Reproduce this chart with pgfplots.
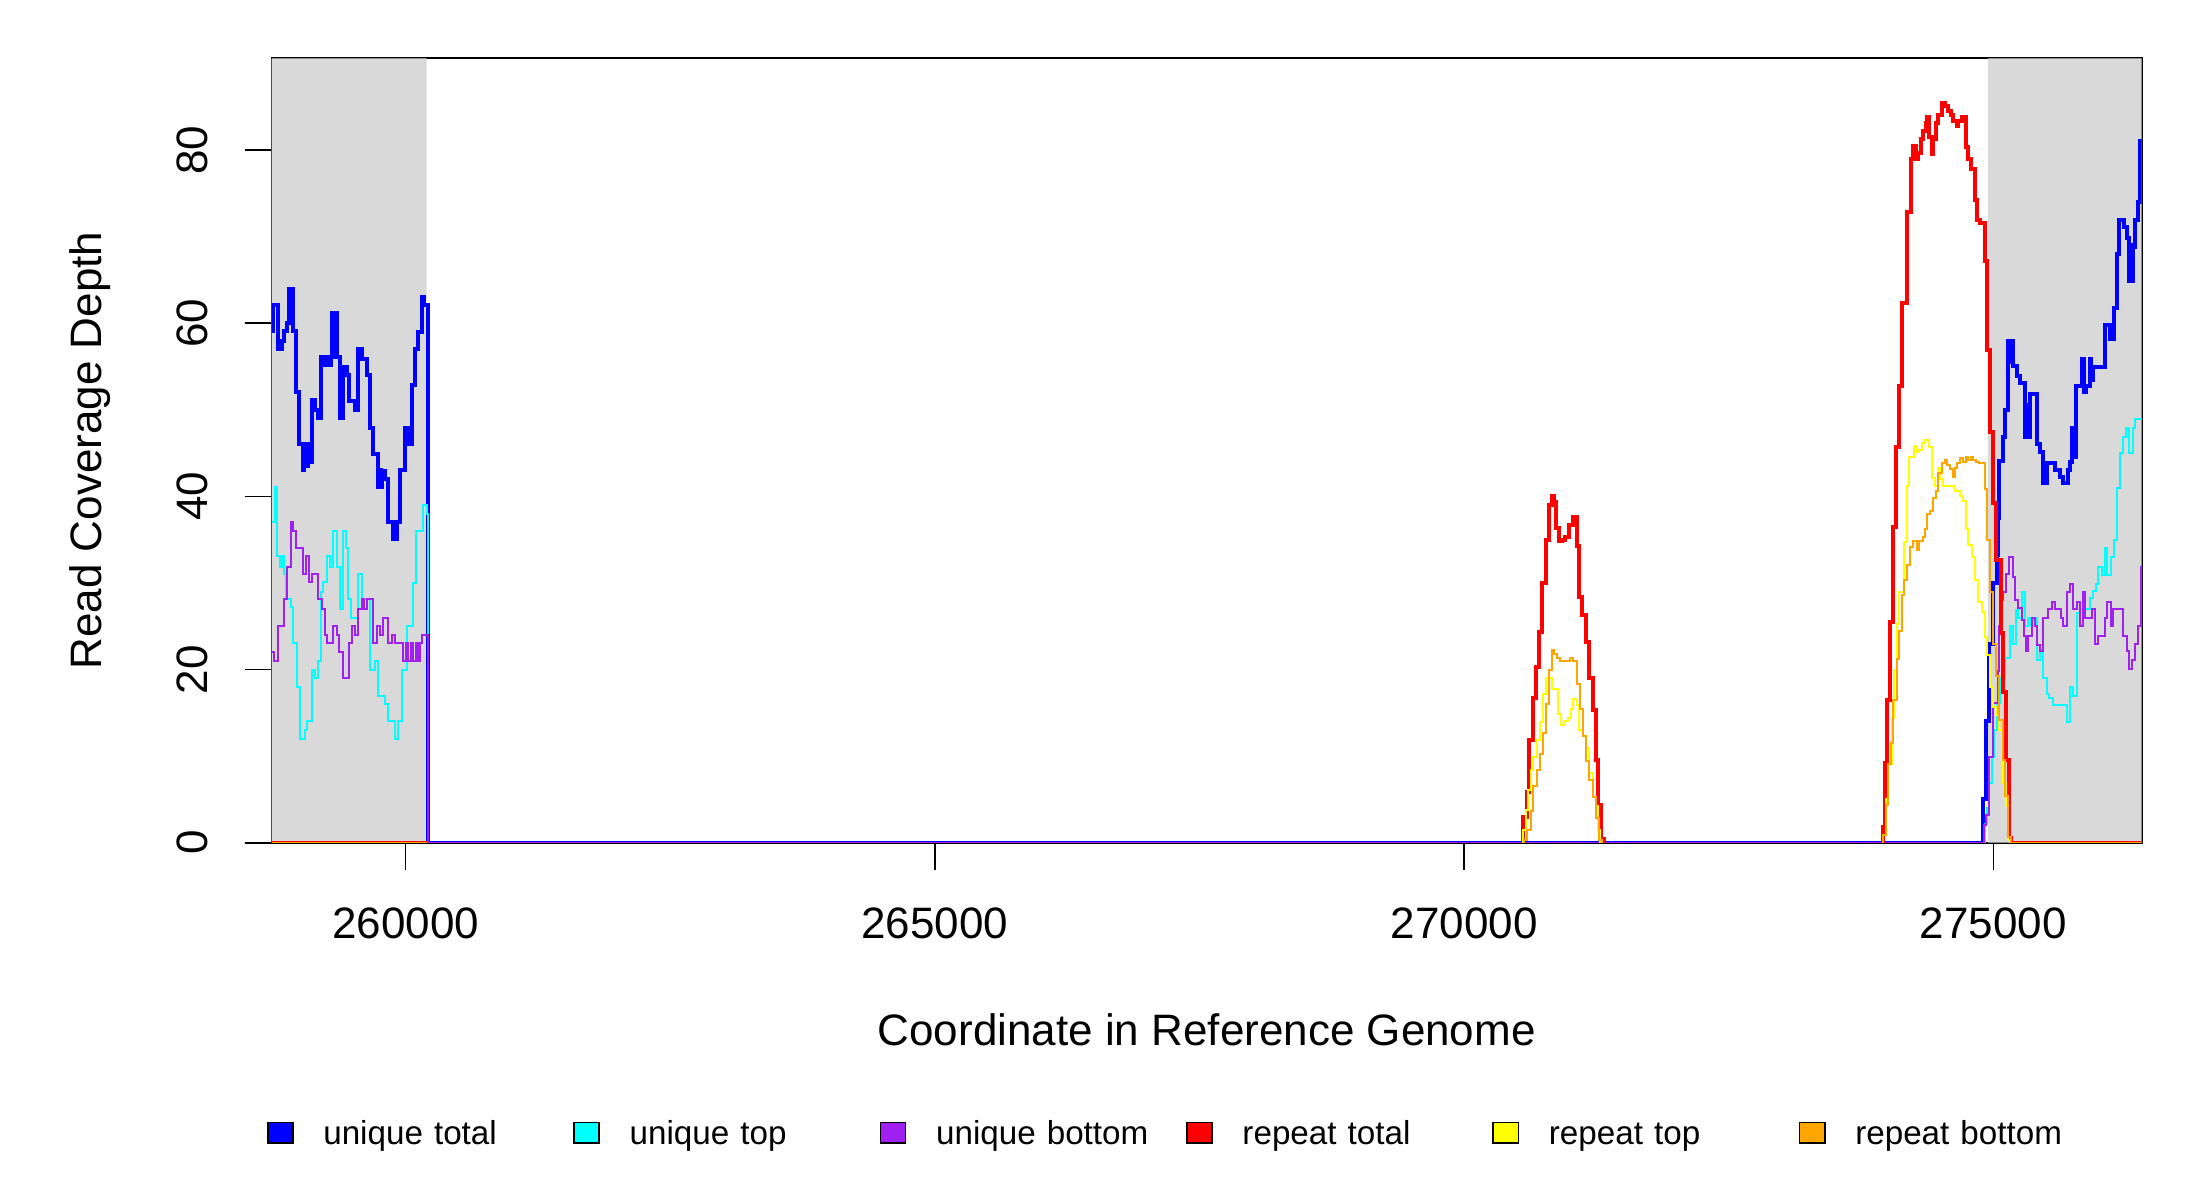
\documentclass[border=0pt]{standalone}
\usepackage{fontspec}
\setmainfont{Liberation Sans}
\usepackage{pgfplots}
\pgfplotsset{compat=1.18}
\definecolor{ublue}{RGB}{0,0,255}
\definecolor{ucyan}{RGB}{0,255,255}
\definecolor{upurple}{RGB}{160,32,240}
\definecolor{rred}{RGB}{255,0,0}
\definecolor{ryellow}{RGB}{255,255,0}
\definecolor{rorange}{RGB}{255,165,0}
\definecolor{shade}{RGB}{217,217,217}
\begin{document}
\begin{tikzpicture}
\path[use as bounding box] (-67.925pt,-89.325pt) rectangle (482.075pt,210.675pt);
\begin{axis}[
  at={(0pt,0pt)}, anchor=south west,
  scale only axis, width=467.5pt, height=196.1pt,
  xmin=258734, xmax=276402, ymin=0, ymax=90.6,
  axis line style={line width=0.4pt},
  every tick/.style={line width=0.4pt, black},
  tick align=outside, major tick length=6.75pt,
  xtick pos=left, ytick pos=left,
  scaled x ticks=false, scaled y ticks=false,
  xtick={260000,265000,270000,275000}, xticklabels={260000,265000,270000,275000},
  ytick={0,20,40,60,80}, yticklabels={0,20,40,60,80},
  ticklabel style={font=\fontsize{11}{13}\selectfont},
  xticklabel style={anchor=base, inner sep=0pt, yshift=-17.15pt},
  yticklabel style={inner sep=0pt, xshift=-9.25pt, rotate=90, anchor=base},
  xlabel={Coordinate in Reference Genome},
  ylabel={Read Coverage Depth},
  label style={font=\fontsize{11}{13}\selectfont},
  xlabel style={at={(axis description cs:0.5,0)}, anchor=base, yshift=-50.75pt, inner sep=0pt},
  ylabel style={at={(axis description cs:-0.090909,0.5)}, anchor=base, inner sep=0pt},
  legend columns=6,
  legend cell align=left,
  legend style={at={(axis description cs:-0.00257,-0.3735)}, anchor=west, draw=none, fill=none,
    inner sep=0pt, outer sep=0pt, column sep=0pt, row sep=0pt,
    font=\fontsize{8.3}{10}\selectfont,
    nodes={inner sep=0pt, text height=6pt, text depth=1.7pt, text width=62.5pt, align=left},
    /tikz/every odd column/.style={column sep=7.4pt},
    /tikz/every even column/.style={column sep=0pt}},
]
% shaded regions
\addplot[draw=none, fill=shade, forget plot] coordinates {(258734,0) (258734,90.6) (260198,90.6) (260198,0)} \closedcycle;
\addplot[draw=none, fill=shade, forget plot] coordinates {(274948,0) (274948,90.6) (276402,90.6) (276402,0)} \closedcycle;

% unique total
\addplot[const plot, ublue, line width=1pt,
  legend image code/.code={\draw[black, line width=0.4pt, fill=ublue] (0pt,-1.9pt) rectangle (6.3pt,3.3pt);}]
coordinates {(258734,59.1) (258750,62.1) (258797,57.0) (258828,58.0) (258850,59.1) (258875,60.0) (258900,64.0) (258913,60.0) (258925,64.0) (258938,59.1) (258964,52.1) (258995,46.1) (259027,43.1) (259042,46.1) (259058,43.5) (259080,46.1) (259096,44.0) (259112,51.1) (259143,50.0) (259175,49.1) (259200,56.1) (259230,55.2) (259250,56.1) (259269,55.2) (259290,56.1) (259305,61.2) (259320,56.1) (259335,61.2) (259348,56.1) (259379,49.1) (259395,54.5) (259405,49.1) (259411,55.0) (259442,54.0) (259467,51.0) (259521,50.0) (259552,57.0) (259565,55.9) (259575,57.0) (259584,55.9) (259631,54.0) (259663,47.9) (259694,44.9) (259741,41.1) (259755,43.0) (259765,41.1) (259773,42.9) (259804,42.0) (259836,37.0) (259883,35.1) (259895,37.0) (259905,35.1) (259915,37.0) (259946,43.0) (259993,47.9) (260005,46.1) (260015,47.9) (260025,46.1) (260056,52.9) (260088,57.0) (260119,59.0) (260151,63.0) (260176,62.1) (260212,0) (274905,5.1) (274931,14.0) (274962,23.0) (275000,30.0) (275031,33.2) (275045,37.5) (275057,44.1) (275089,46.9) (275111,50.0) (275142,58.0) (275158,55.5) (275170,58.0) (275189,55.1) (275227,53.9) (275252,53.1) (275300,46.9) (275315,50.5) (275330,46.9) (275343,51.8) (275410,46.1) (275441,45.1) (275467,41.5) (275511,43.8) (275583,43.0) (275630,42.2) (275662,41.5) (275709,43.0) (275725,44.0) (275740,47.9) (275750,44.5) (275781,52.8) (275835,55.9) (275857,52.0) (275876,52.8) (275914,55.9) (275925,53.5) (275945,54.9) (276055,59.8) (276103,58.2) (276140,61.8) (276165,68.0) (276191,71.9) (276235,71.1) (276266,69.8) (276279,64.9) (276295,69.0) (276305,64.9) (276317,68.8) (276339,71.9) (276370,74.0) (276388,81.0) (276402,81.0)};
\addlegendentry{unique total}

% unique top
\addplot[const plot, ucyan, line width=0.5pt,
  legend image code/.code={\draw[black, line width=0.4pt, fill=ucyan] (0pt,-1.9pt) rectangle (6.3pt,3.3pt);}]
coordinates {(258734,37.0) (258765,41.1) (258787,33.1) (258810,31.9) (258828,33.1) (258850,31.0) (258869,28.1) (258913,27.2) (258938,23.1) (258970,18.0) (259001,12.0) (259049,13.0) (259064,14.0) (259112,20.0) (259143,19.0) (259175,21.0) (259197,29.0) (259222,30.1) (259253,33.1) (259285,31.9) (259316,36.0) (259348,31.9) (259379,27.0) (259404,36.0) (259436,34.0) (259458,28.1) (259480,26.0) (259552,31.0) (259584,28.1) (259663,20.0) (259710,21.0) (259741,17.0) (259804,16.0) (259836,14.0) (259899,12.0) (259930,14.0) (259962,20.0) (260009,25.0) (260066,30.0) (260097,36.0) (260160,39.0) (260198,38.0) (260212,0) (274921,2.2) (274945,4.0) (274962,6.9) (274985,9.9) (275010,13.0) (275035,16.1) (275063,19.0) (275110,21.3) (275157,25.0) (275189,23.0) (275214,26.9) (275236,26.0) (275268,29.0) (275299,25.0) (275331,26.0) (275353,25.0) (275394,26.0) (275416,21.1) (275441,22.8) (275472,19.0) (275504,17.2) (275530,16.7) (275567,15.9) (275700,13.9) (275725,18.0) (275756,17.0) (275787,26.5) (275819,27.0) (275914,28.3) (275939,29.1) (275970,29.9) (275992,31.9) (276024,30.9) (276055,34.0) (276077,30.9) (276109,33.0) (276140,35.0) (276165,41.0) (276197,45.0) (276222,46.9) (276254,47.9) (276285,45.0) (276317,47.9) (276339,48.9) (276402,48.9)};
\addlegendentry{unique top}

% unique bottom
\addplot[const plot, upurple, line width=0.5pt,
  legend image code/.code={\draw[black, line width=0.4pt, fill=upurple] (0pt,-1.9pt) rectangle (6.3pt,3.3pt);}]
coordinates {(258734,22.0) (258759,21.0) (258797,25.0) (258850,28.1) (258882,31.9) (258913,37.0) (258938,36.0) (258964,34.0) (259027,31.0) (259055,33.1) (259086,30.1) (259112,31.0) (259175,28.1) (259206,27.0) (259238,24.0) (259253,23.1) (259316,25.0) (259348,24.0) (259373,22.0) (259404,19.0) (259467,23.1) (259489,25.0) (259521,24.0) (259552,27.0) (259584,28.1) (259606,27.0) (259631,28.1) (259694,23.1) (259726,25.0) (259757,24.0) (259782,26.0) (259836,23.1) (259867,24.0) (259899,23.1) (259978,21.0) (260000,23.1) (260025,21.0) (260047,23.1) (260072,21.0) (260097,23.1) (260119,21.0) (260135,23.1) (260151,24.0) (260212,0) (274912,2.0) (274931,3.2) (274962,9.9) (275000,16.1) (275040,19.8) (275057,25.0) (275070,28.0) (275094,29.0) (275120,31.0) (275151,33.0) (275183,30.7) (275205,28.0) (275236,27.1) (275268,25.7) (275290,23.9) (275309,22.1) (275331,23.9) (275362,25.9) (275394,25.0) (275416,22.8) (275441,22.1) (275472,25.9) (275489,26.0) (275520,27.0) (275552,27.8) (275583,27.0) (275637,26.0) (275662,25.0) (275700,28.9) (275725,29.9) (275756,27.0) (275794,27.8) (275819,25.0) (275844,28.9) (275866,26.0) (275929,27.0) (275961,22.9) (275992,23.9) (276055,26.0) (276077,27.8) (276109,25.0) (276134,27.0) (276229,23.9) (276260,22.1) (276285,20.1) (276307,21.1) (276339,22.9) (276364,25.0) (276392,31.9) (276402,31.9)};
\addlegendentry{unique bottom}

% repeat total
\addplot[const plot, rred, line width=1pt,
  legend image code/.code={\draw[black, line width=0.4pt, fill=rred] (0pt,-1.9pt) rectangle (6.3pt,3.3pt);}]
coordinates {(258734,0) (260205,0)};
\addlegendentry{repeat total}
\addplot[const plot, rred, line width=1pt, forget plot]
coordinates {(270559,0) (270559,3.0) (270591,5.9) (270616,11.9) (270648,16.7) (270676,20.3) (270711,24.3) (270739,30.0) (270770,35.0) (270799,39.0) (270827,40.0) (270849,39.4) (270868,36.3) (270896,34.8) (270922,35.0) (270953,35.3) (270994,36.7) (271025,37.6) (271063,34.3) (271088,28.4) (271117,26.3) (271148,23.2) (271183,19.0) (271214,15.3) (271246,9.6) (271268,4.4) (271293,0.4) (271321,0)};
\addplot[const plot, rred, line width=1pt, forget plot]
coordinates {(273954,0) (273954,1.8) (273976,9.2) (273998,16.5) (274023,25.5) (274049,36.5) (274077,45.7) (274108,52.7) (274140,62.3) (274181,72.9) (274219,79.0) (274244,80.5) (274269,79.0) (274291,79.7) (274313,81.3) (274338,82.2) (274360,83.1) (274376,83.8) (274395,81.5) (274417,79.5) (274433,81.3) (274455,83.1) (274480,84.1) (274512,85.4) (274543,85.1) (274575,84.5) (274597,84.1) (274622,83.4) (274653,82.8) (274669,83.4) (274701,83.8) (274741,80.4) (274763,79.0) (274786,77.8) (274826,74.2) (274849,71.9) (274874,71.6) (274921,67.2) (274943,56.9) (274968,47.4) (275000,39.2) (275030,32.7) (275068,24.2) (275092,17.4) (275120,9.5) (275151,0.5) (275170,0) (276402,0)};

% repeat top
\addplot[const plot, ryellow, line width=0.5pt,
  legend image code/.code={\draw[black, line width=0.4pt, fill=ryellow] (0pt,-1.9pt) rectangle (6.3pt,3.3pt);}]
coordinates {(258734,0) (260205,0)};
\addlegendentry{repeat top}
\addplot[const plot, ryellow, line width=0.5pt, forget plot]
coordinates {(270559,0) (270559,1.5) (270585,3.8) (270607,6.1) (270629,8.4) (270654,9.9) (270685,11.9) (270717,13.9) (270742,17.2) (270770,19.0) (270827,17.7) (270884,14.9) (270915,13.6) (270947,14.0) (270978,14.4) (271007,15.4) (271032,16.6) (271063,15.9) (271088,13.0) (271120,12.3) (271151,10.9) (271183,8.0) (271214,5.3) (271246,4.2) (271268,1.5) (271284,0)};
\addplot[const plot, ryellow, line width=0.5pt, forget plot]
coordinates {(273960,0) (273960,0.9) (273986,5.0) (274008,9.1) (274039,14.4) (274061,20.0) (274086,25.3) (274112,28.9) (274156,34.7) (274181,41.2) (274206,44.6) (274250,45.8) (274269,45.1) (274291,45.4) (274323,46.2) (274345,46.5) (274395,45.7) (274417,42.1) (274449,41.2) (274480,43.3) (274496,42.0) (274527,41.2) (274638,40.6) (274685,40.0) (274716,39.5) (274740,36.2) (274764,34.4) (274795,33.0) (274827,30.3) (274858,27.8) (274890,26.7) (274921,23.8) (274943,21.7) (274970,18.0) (275000,15.7) (275025,14.7) (275057,13.0) (275079,9.5) (275094,6.9) (275120,4.2) (275142,0.3) (275157,0) (276402,0)};

% repeat bottom
\addplot[const plot, rorange, line width=0.5pt,
  legend image code/.code={\draw[black, line width=0.4pt, fill=rorange] (0pt,-1.9pt) rectangle (6.3pt,3.3pt);}]
coordinates {(258734,0) (260205,0)};
\addlegendentry{repeat bottom}
\addplot[const plot, rorange, line width=0.5pt, forget plot]
coordinates {(270566,0) (270566,0.3) (270591,1.5) (270629,3.7) (270654,6.5) (270685,8.4) (270717,10.3) (270742,12.7) (270770,16.0) (270802,19.9) (270827,22.3) (270849,21.8) (270874,21.3) (270906,21.0) (271000,21.3) (271032,21.0) (271070,18.3) (271095,15.4) (271126,12.3) (271151,9.4) (271183,7.2) (271214,5.3) (271246,2.9) (271277,0.3) (271299,0)};
\addplot[const plot, rorange, line width=0.5pt, forget plot]
coordinates {(273960,0) (273960,0.9) (273986,4.4) (274008,9.1) (274033,11.5) (274055,16.5) (274086,21.2) (274112,24.4) (274134,28.6) (274156,30.3) (274187,32.1) (274212,34.2) (274244,34.8) (274275,33.8) (274301,34.8) (274332,35.3) (274354,36.2) (274370,38.0) (274401,38.3) (274433,39.8) (274458,40.6) (274480,42.7) (274512,43.9) (274543,44.2) (274559,43.6) (274590,43.2) (274615,42.2) (274638,43.3) (274660,43.9) (274685,44.4) (274710,44.0) (274741,44.5) (274763,44.2) (274786,44.6) (274811,44.2) (274836,44.0) (274867,43.9) (274920,40.9) (274940,35.0) (274968,29.0) (274994,23.0) (275025,19.2) (275057,14.2) (275088,9.5) (275110,5.4) (275142,0.7) (275170,0) (276402,0)};
\end{axis}
\end{tikzpicture}
\end{document}
